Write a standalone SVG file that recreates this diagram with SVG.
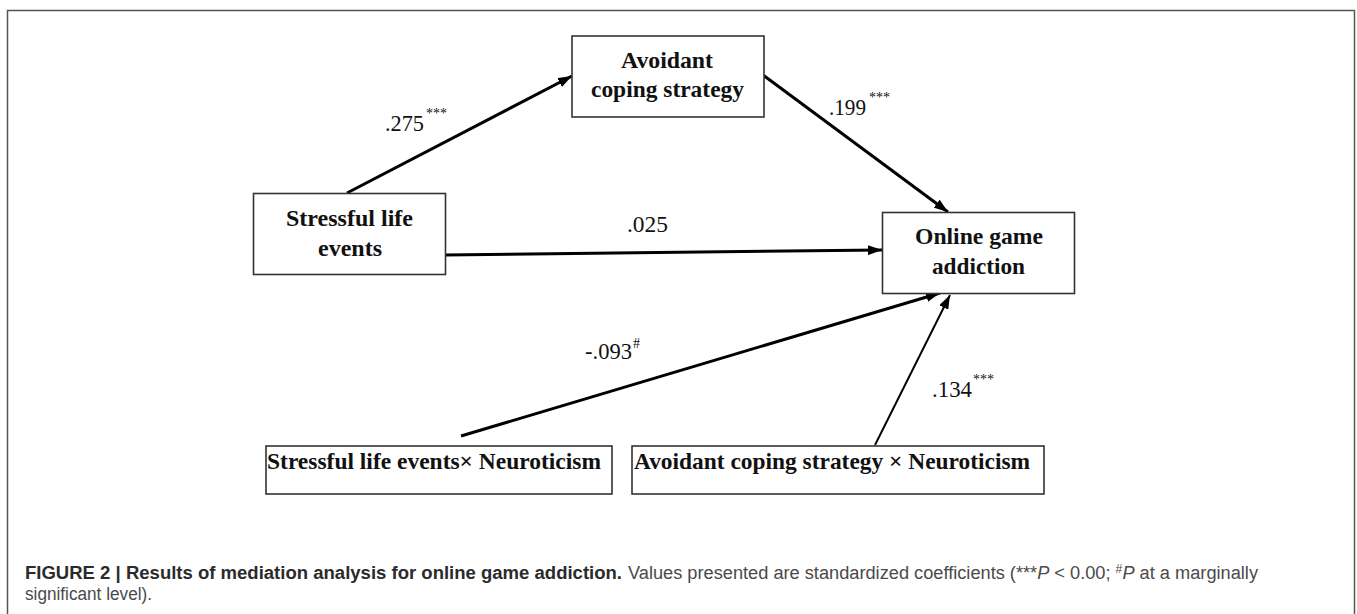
<svg xmlns="http://www.w3.org/2000/svg" width="1357" height="614" viewBox="0 0 1357 614">
<defs>
<style>
.frame{fill:none;stroke:#555;stroke-width:1.5}
.box{fill:#fff;stroke:#333;stroke-width:1.6}
.lbl{font-family:"Liberation Serif","Times New Roman",serif;font-weight:bold;font-size:24px;fill:#111}
.num{font-family:"Liberation Serif","Times New Roman",serif;font-size:23px;fill:#111}
.sup{font-size:14px}
.edge{stroke:#000;stroke-width:3;fill:none}
.cap{font-family:"Liberation Sans",Arial,sans-serif;font-size:18px}
</style>
<marker id="ah" viewBox="0 0 14 10" refX="14" refY="5" markerWidth="14" markerHeight="10" markerUnits="userSpaceOnUse" orient="auto">
<path d="M0,0 L14,5 L0,10 Z" fill="#000"/>
</marker>
</defs>
<rect x="0" y="0" width="1357" height="614" fill="#fff"/>
<rect class="frame" x="7.5" y="10.5" width="1347" height="620"/>

<g id="connectors">
<line class="edge" x1="347" y1="193" x2="572" y2="76" marker-end="url(#ah)"/>
<line class="edge" x1="763" y1="75" x2="948" y2="212" marker-end="url(#ah)"/>
<line class="edge" x1="445" y1="255" x2="882" y2="250" marker-end="url(#ah)"/>
<line class="edge" x1="461" y1="436" x2="940" y2="293" marker-end="url(#ah)"/>
<line class="edge" style="stroke-width:2" x1="875" y1="445" x2="950" y2="295" marker-end="url(#ah)"/>
<text class="num" x="385" y="131" textLength="39" lengthAdjust="spacingAndGlyphs">.275</text>
<text class="num sup" x="426" y="118">***</text>
<text class="num" x="829" y="115" textLength="37" lengthAdjust="spacingAndGlyphs">.199</text>
<text class="num sup" x="869" y="102">***</text>
<text class="num" x="627" y="232" textLength="41" lengthAdjust="spacingAndGlyphs">.025</text>
<text class="num" x="585" y="359" textLength="47" lengthAdjust="spacingAndGlyphs">-.093</text>
<text class="num sup" x="633" y="348">#</text>
<text class="num" x="932" y="397" textLength="40" lengthAdjust="spacingAndGlyphs">.134</text>
<text class="num sup" x="973" y="384">***</text>
</g>

<g id="node-avoidant">
<rect class="box" x="572" y="36" width="192" height="81"/>
<text class="lbl" x="621" y="68" textLength="92" lengthAdjust="spacingAndGlyphs">Avoidant</text>
<text class="lbl" x="591" y="97" textLength="153" lengthAdjust="spacingAndGlyphs">coping strategy</text>
</g>

<g id="node-stressful">
<rect class="box" x="253.5" y="193.5" width="192" height="81"/>
<text class="lbl" x="286" y="226" textLength="127" lengthAdjust="spacingAndGlyphs">Stressful life</text>
<text class="lbl" x="318" y="256" textLength="64" lengthAdjust="spacingAndGlyphs">events</text>
</g>

<g id="node-online">
<rect class="box" x="882.5" y="212.5" width="192" height="81"/>
<text class="lbl" x="915" y="244" textLength="128" lengthAdjust="spacingAndGlyphs">Online game</text>
<text class="lbl" x="932" y="274" textLength="93" lengthAdjust="spacingAndGlyphs">addiction</text>
</g>

<g id="node-sle-neuro">
<rect class="box" x="266" y="446" width="346" height="48"/>
<text class="lbl" x="267" y="469" textLength="334" lengthAdjust="spacingAndGlyphs">Stressful life events× Neuroticism</text>
</g>

<g id="node-acs-neuro">
<rect class="box" x="632" y="446" width="412" height="48"/>
<text class="lbl" x="634" y="469" textLength="396" lengthAdjust="spacingAndGlyphs">Avoidant coping strategy × Neuroticism</text>
</g>

<g id="caption">
<text class="cap" x="25" y="579" font-weight="bold" fill="#2b2b2b" textLength="597" lengthAdjust="spacingAndGlyphs">FIGURE 2 | Results of mediation analysis for online game addiction.</text>
<text class="cap" x="628" y="579" fill="#4a4a4a" textLength="630" lengthAdjust="spacingAndGlyphs">Values presented are standardized coefficients (***<tspan font-style="italic">P</tspan> &lt; 0.00; <tspan font-size="12" dy="-6">#</tspan><tspan font-style="italic" dy="6">P</tspan> at a marginally</text>
<text class="cap" x="25" y="600" fill="#4a4a4a" textLength="127" lengthAdjust="spacingAndGlyphs">significant level).</text>
</g>
</svg>
